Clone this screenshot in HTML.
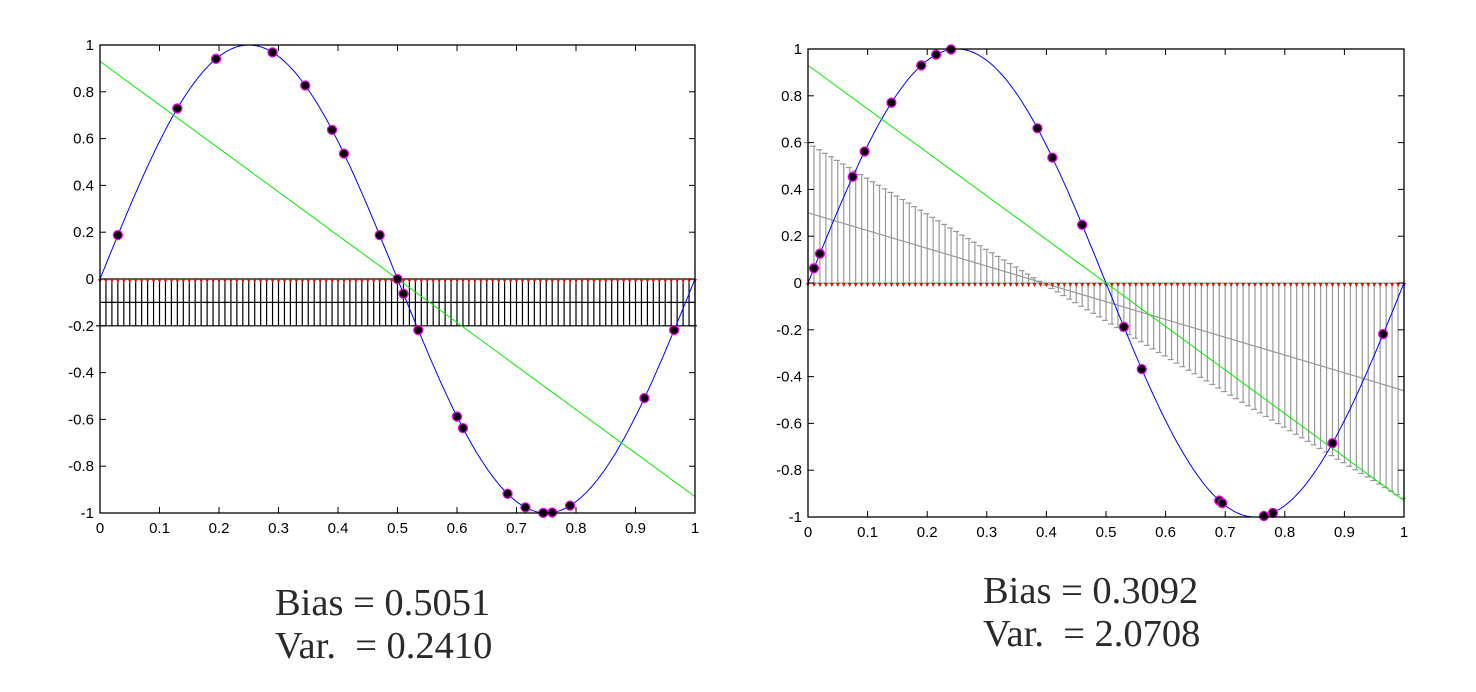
<!DOCTYPE html>
<html><head><meta charset="utf-8"><style>
body{margin:0;background:#fff;width:1476px;height:692px;overflow:hidden}
svg{position:absolute;left:0;top:0}
.cap{position:absolute;font-family:"Liberation Serif",serif;font-size:38.5px;color:#2a2a2a;line-height:43px}
</style></head><body>
<svg id="s" width="1476" height="692"></svg>
<div class="cap" style="left:275px;top:582px">Bias = 0.5051<br>Var.&nbsp; = 0.2410</div>
<div class="cap" style="left:983px;top:570px">Bias = 0.3092<br>Var.&nbsp; = 2.0708</div>
<script>
const xTicks=[0,0.1,0.2,0.3,0.4,0.5,0.6,0.7,0.8,0.9,1];
const yTicks=[-1,-0.8,-0.6,-0.4,-0.2,0,0.2,0.4,0.6,0.8,1];
const leftPointsX=[0.03,0.13,0.195,0.29,0.345,0.39,0.41,0.47,0.5,0.51,0.535,0.6,0.61,0.685,0.715,0.745,0.76,0.79,0.915,0.965];
const rightPointsX=[0.01,0.02,0.075,0.095,0.14,0.19,0.215,0.24,0.385,0.41,0.46,0.53,0.56,0.69,0.695,0.765,0.78,0.88,0.965];
const leftFitLine=[0.93,-0.93];
const rightFitLine=[0.93,-0.93];
const leftMeanLine=[-0.1,-0.1];
const rightMeanLine=[0.3,-0.46];
const NS='http://www.w3.org/2000/svg';
const svg=document.getElementById('s');
function el(t,a,p){const e=document.createElementNS(NS,t);for(const k in a)e.setAttribute(k,a[k]);(p||svg).appendChild(e);return e;}
function panel(name,x0,x1,y0,y1,pts,fit,mean,stemColor){
  const g=el('g',{});
  
  
  const X=v=>x0+(x1-x0)*v, Y=v=>y0+(y1-y0)*(1-v)/2;
  for(let i=0;i<=100;i++){const x=i/100;const m=mean[0]+(mean[1]-mean[0])*x;const end=2*m;
    const st=el('line',{x1:X(x),x2:X(x),y1:Y(0),y2:Y(end),stroke:stemColor,'stroke-width':1.2},g);
    
    
    el('line',{x1:X(x)-4,x2:X(x)+2,y1:Y(end),y2:Y(end),stroke:stemColor,'stroke-width':1.2},g);
  }
  let mp=el('line',{x1:X(0),x2:X(1),y1:Y(mean[0]),y2:Y(mean[1]),stroke:stemColor,'stroke-width':1.2},g);
  
  
  el('line',{x1:X(0),x2:X(1),y1:Y(0),y2:Y(0),stroke:stemColor,'stroke-width':1.2},g);
  for(let i=0;i<=100;i++){const x=i/100;const t=el('polygon',{points:`${X(x)-2},${Y(0)} ${X(x)+2},${Y(0)} ${X(x)},${Y(0)+4}`,fill:'#f00'},g);
    
    }
  let d='';for(let i=0;i<=400;i++){const x=i/400;d+=(i?'L':'M')+X(x).toFixed(1)+','+Y(Math.sin(2*Math.PI*x)).toFixed(1);}
  const sp=el('path',{d,fill:'none',stroke:'#00f','stroke-width':1},g);
  
  
  const fl=el('line',{x1:X(0),x2:X(1),y1:Y(fit[0]),y2:Y(fit[1]),stroke:'#0e0','stroke-width':1},g);
  
  
  pts.forEach(p=>{const c=el('circle',{cx:X(p),cy:Y(Math.sin(2*Math.PI*p)),r:4.5,fill:'#000',stroke:'#e0e','stroke-width':1.3},g);
    
    });
  const ax=el('rect',{x:x0,y:y0,width:x1-x0,height:y1-y0,fill:'none',stroke:'#000','stroke-width':1.3},g);
  
  
  xTicks.forEach(v=>{el('line',{x1:X(v),x2:X(v),y1:y1,y2:y1-6,stroke:'#000'},g);el('line',{x1:X(v),x2:X(v),y1:y0,y2:y0+6,stroke:'#000'},g);
    const t=el('text',{x:X(v),y:y1+20,'text-anchor':'middle','font-family':'Liberation Sans,sans-serif','font-size':15},g);t.textContent=v;
    
    });
  yTicks.forEach(v=>{el('line',{x1:x0,x2:x0+6,y1:Y(v),y2:Y(v),stroke:'#000'},g);el('line',{x1:x1,x2:x1-6,y1:Y(v),y2:Y(v),stroke:'#000'},g);
    const t=el('text',{x:x0-6,y:Y(v)+5,'text-anchor':'end','font-family':'Liberation Sans,sans-serif','font-size':15},g);t.textContent=v;
    
    });
}
panel('left-plot',100,695,45,513,leftPointsX,leftFitLine,leftMeanLine,'#000');
panel('right-plot',808,1404,49,517,rightPointsX,rightFitLine,rightMeanLine,'#999');
</script>
</body></html>
